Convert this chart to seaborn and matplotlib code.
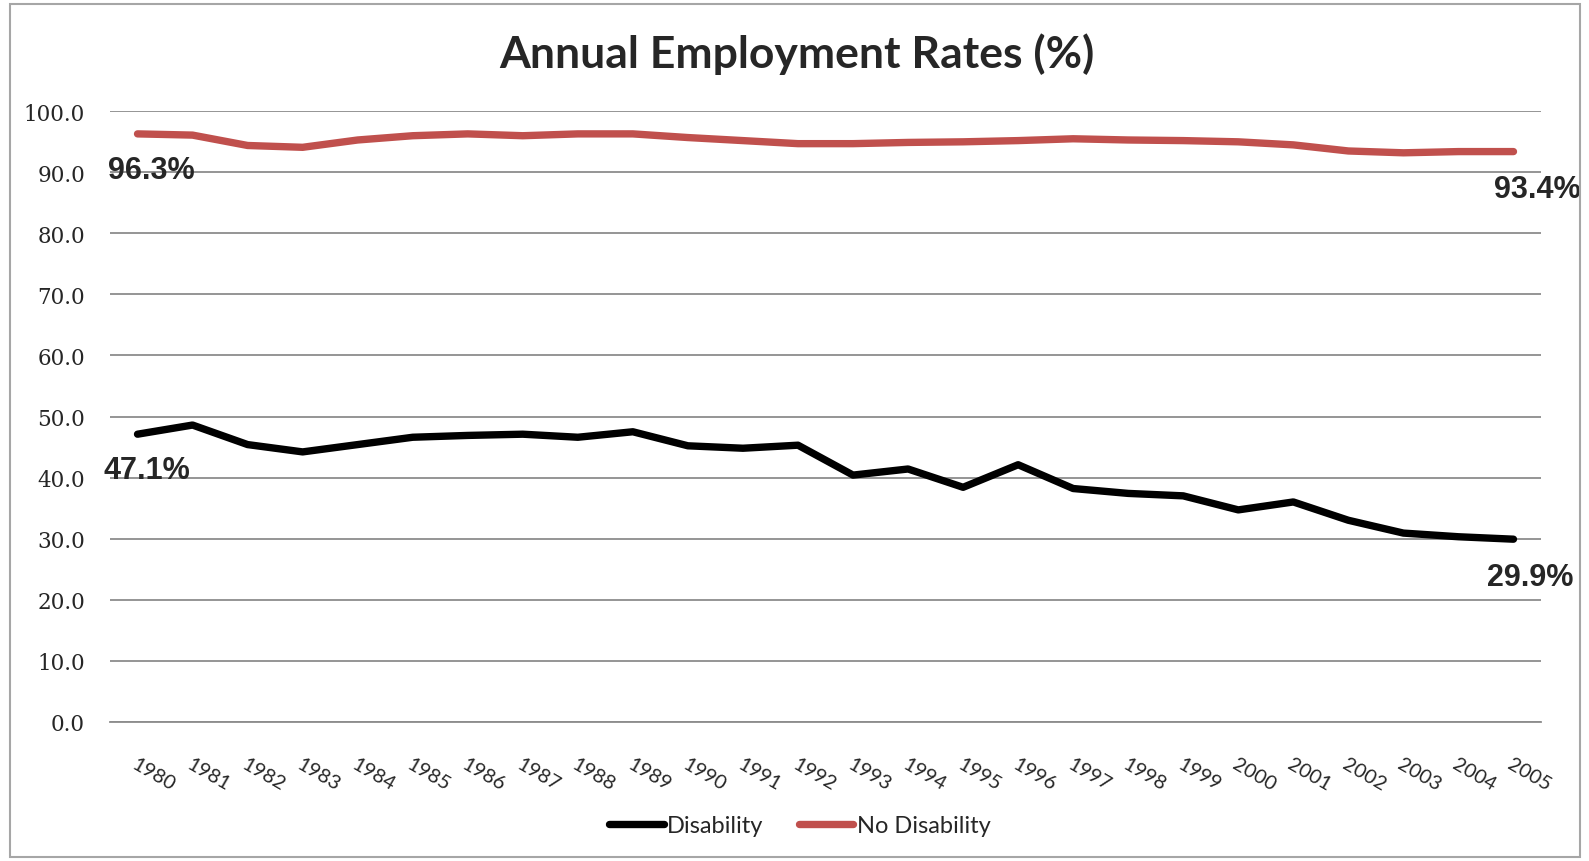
#standard ds imports
import pandas as pd
import numpy as np

#visualization imports
import matplotlib.pyplot as plt
import seaborn as sns
from matplotlib.patches import Rectangle


years = [str(y) for y in range(1980, 2006)]
disability = [47.1, 48.6, 45.4, 44.2, 45.4, 46.6, 46.9, 47.1, 46.6, 47.5,
              45.2, 44.8, 45.3, 40.4, 41.4, 38.4, 42.1, 38.2, 37.4, 37.0,
              34.7, 36.0, 33.0, 30.9, 30.3, 29.9]
no_disability = [96.3, 96.1, 94.4, 94.1, 95.3, 96.0, 96.3, 96.0, 96.3, 96.3,
                 95.7, 95.2, 94.7, 94.7, 94.9, 95.0, 95.2, 95.5, 95.3, 95.2,
                 95.0, 94.5, 93.5, 93.2, 93.4, 93.4]
series_names = ['Disability', 'No Disability']
y_ticks = [0, 10, 20, 30, 40, 50, 60, 70, 80, 90, 100]


sns.set_style('white')
plt.rcParams['font.family'] = ['Lato', 'DejaVu Sans']

# long form table for seaborn
df = pd.DataFrame({
    'idx': list(range(len(years))) * 2,
    'rate': disability + no_disability,
    'group': [series_names[0]] * len(years) + [series_names[1]] * len(years),
})

fig = plt.figure(figsize=(15.89, 8.62), dpi=100)
ax = fig.add_axes([110 / 1589, 1 - 722.7 / 862, 1431 / 1589, 610.4 / 862])

sns.lineplot(data=df, x='idx', y='rate', hue='group',
             palette={'Disability': 'black', 'No Disability': '#C0504D'},
             linewidth=5.3, ax=ax, legend=False)
for ln in ax.lines:
    ln.set_solid_capstyle('round')
    ln.set_solid_joinstyle('round')

ax.set_xlim(-0.5, len(years) - 0.5)
ax.set_ylim(0, 100)
ax.set_xlabel('')
ax.set_ylabel('')

# y axis
ax.set_yticks(y_ticks)
ax.set_yticklabels([f'{v:.1f}' for v in y_ticks], family='DejaVu Serif', fontsize=15.5)
ax.tick_params(axis='y', length=0, pad=18)
ax.yaxis.grid(True, color='#8c8c8c', linewidth=1.3)
ax.set_axisbelow(True)

# x axis: labels at centres, ticks between categories
ax.set_xticks(range(len(years)))
ax.set_xticklabels(years, rotation=-30, ha='left', va='top',
                   rotation_mode='anchor', fontsize=14.5)
ax.tick_params(axis='x', which='major', length=0, pad=24)
ax.set_xticks(np.arange(-0.5, len(years)), minor=True)
ax.tick_params(axis='x', which='minor', length=7, width=1.3, color='#8c8c8c')

for s in ['left', 'top', 'right']:
    ax.spines[s].set_visible(False)
ax.spines['bottom'].set_color('#8c8c8c')
ax.spines['bottom'].set_linewidth(1.3)

# end point labels
lab_kw = dict(textcoords='offset points', ha='center', va='center',
              fontsize=22, fontweight='bold', family='Liberation Sans')
ax.annotate(f'{no_disability[0]:.1f}%', (0, no_disability[0]), xytext=(9.7, -26), **lab_kw)
ax.annotate(f'{disability[0]:.1f}%', (0, disability[0]), xytext=(6.8, -26), **lab_kw)
ax.annotate(f'{no_disability[-1]:.1f}%', (len(years) - 1, no_disability[-1]), xytext=(17, -27), **lab_kw)
ax.annotate(f'{disability[-1]:.1f}%', (len(years) - 1, disability[-1]), xytext=(12, -27), **lab_kw)

fig.text(797 / 1589, 1 - 54 / 862, 'Annual Employment Rates (%)',
         ha='center', va='center', fontsize=32, fontweight='bold')

handles = [plt.Line2D([], [], color='black', lw=5.3, solid_capstyle='round'),
           plt.Line2D([], [], color='#C0504D', lw=5.3, solid_capstyle='round')]
fig.legend(handles, series_names, loc='center', bbox_to_anchor=(800 / 1589, 1 - 827 / 862),
           ncol=2, frameon=False, fontsize=17, handlelength=2.3,
           handletextpad=0.15, columnspacing=1.5)

# chart border
fig.patches.append(Rectangle((10 / 1589, 4 / 862), 1570 / 1589, 853 / 862,
                             transform=fig.transFigure, fill=False,
                             edgecolor='#a6a6a6', linewidth=1.5))

fig.savefig('out.png', dpi=100)
